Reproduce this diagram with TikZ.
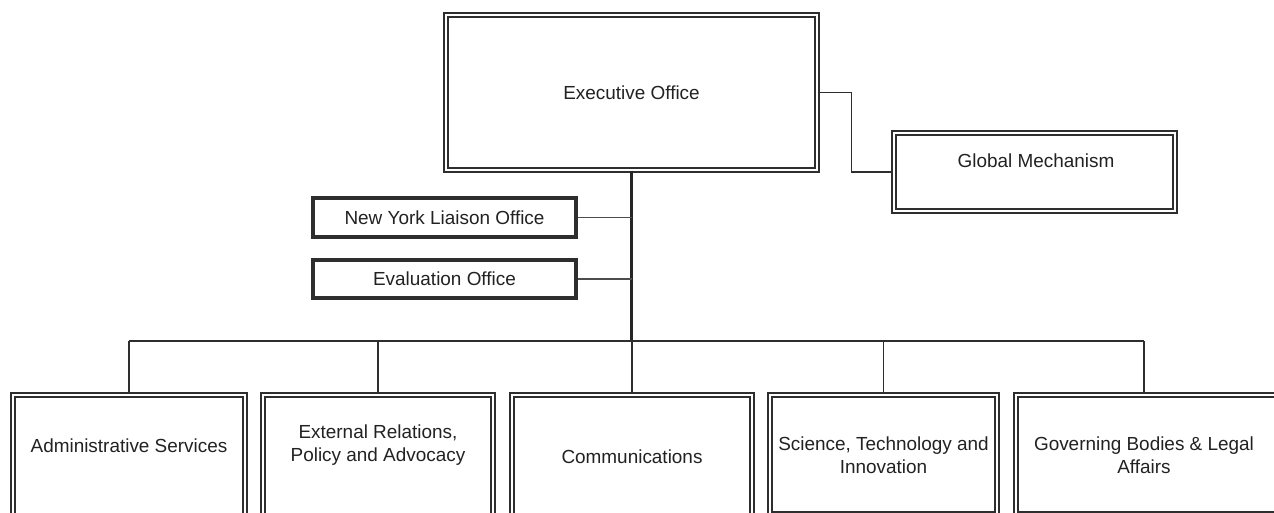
\documentclass[tikz,border=0pt]{standalone}
\usepackage{fontspec}
\setmainfont{Liberation Sans}
\usetikzlibrary{fit,calc}
\definecolor{ln}{HTML}{2E2E2E}
\definecolor{tx}{HTML}{222222}
\tikzset{
  dbox/.style={draw=ln, line width=1pt, double=white, double distance=2pt, inner sep=0pt, text=tx, align=center},
  tbox/.style={draw=ln, line width=2.3pt, inner sep=0pt, text=tx, align=center},
  lbl/.style={text=tx, align=center, inner sep=0pt},
  conn/.style={draw=ln, line width=1.15pt},
  thinconn/.style={draw=ln!85, line width=0.9pt},
  trunk/.style={draw=ln!80!black, line width=1.6pt},
}
\begin{document}
\begin{tikzpicture}[x=0.75pt,y=-0.75pt,font=\fontsize{14.2}{17.25}\selectfont]
\useasboundingbox (0,0) rectangle (1274,513);
\clip (0,0) rectangle (1274,513);
\fill[white] (0,0) rectangle (1274,513);

% top boxes
\node[dbox, minimum width=278.25pt, minimum height=116.25pt] (exec) at (631.5,92.5) {Executive Office};
\node[dbox, minimum width=210.75pt, minimum height=58.5pt] (global) at (1034.5,172) {};
\node[lbl] (globaltxt) at (1036,161) {Global Mechanism};
\node[tbox, minimum width=197.25pt, minimum height=29.25pt] (ny) at (444.5,217.5) {New York Liaison Office};
\node[tbox, minimum width=197.25pt, minimum height=28.5pt] (eval) at (444.5,279) {Evaluation Office};

% bottom boxes
\node[dbox, fit={(13,395) (245,540)}] (admin) {};
\node[dbox, fit={(263,395) (493,540)}] (ext) {};
\node[dbox, fit={(512,395) (752,540)}] (comm) {};
\node[dbox, fit={(770,395) (997,514)}] (sci) {};
\node[dbox, fit={(1016,395) (1300,514)}] (gov) {};

\node[lbl] (admintxt) at (129,446) {Administrative Services};
\node[lbl] (exttxt) at (378,445.5) {External Relations,\\Policy and Advocacy};
\node[lbl] (commtxt) at (632,457) {Communications};
\node[lbl] (scitxt) at (883.5,455) {Science, Technology and\\Innovation};
\node[lbl] (govtxt) at (1144,455) {Governing Bodies \& Legal\\Affairs};

% bus
\coordinate (bus) at (632,341);
\coordinate (busL) at (129,341);
\coordinate (busR) at (1144,341);

% connectors
\draw[trunk] (exec.south) -- (exec.south |- bus);
\draw[conn] (exec.east) -- ++(34,0) |- (global.west);
\draw[thinconn] (ny.east) -- (ny.east -| exec.south);
\draw[thinconn] (eval.east) -- (eval.east -| exec.south);
\draw[conn] (busL) -- (busR);
\draw[conn] (busL) -- (admin.north);
\draw[conn] (ext.north |- bus) -- (ext.north);
\draw[conn] (comm.north |- bus) -- (comm.north);
\draw[conn] (sci.north |- bus) -- (sci.north);
\draw[conn] (busR) -- (busR |- gov.north);
\end{tikzpicture}
\end{document}
